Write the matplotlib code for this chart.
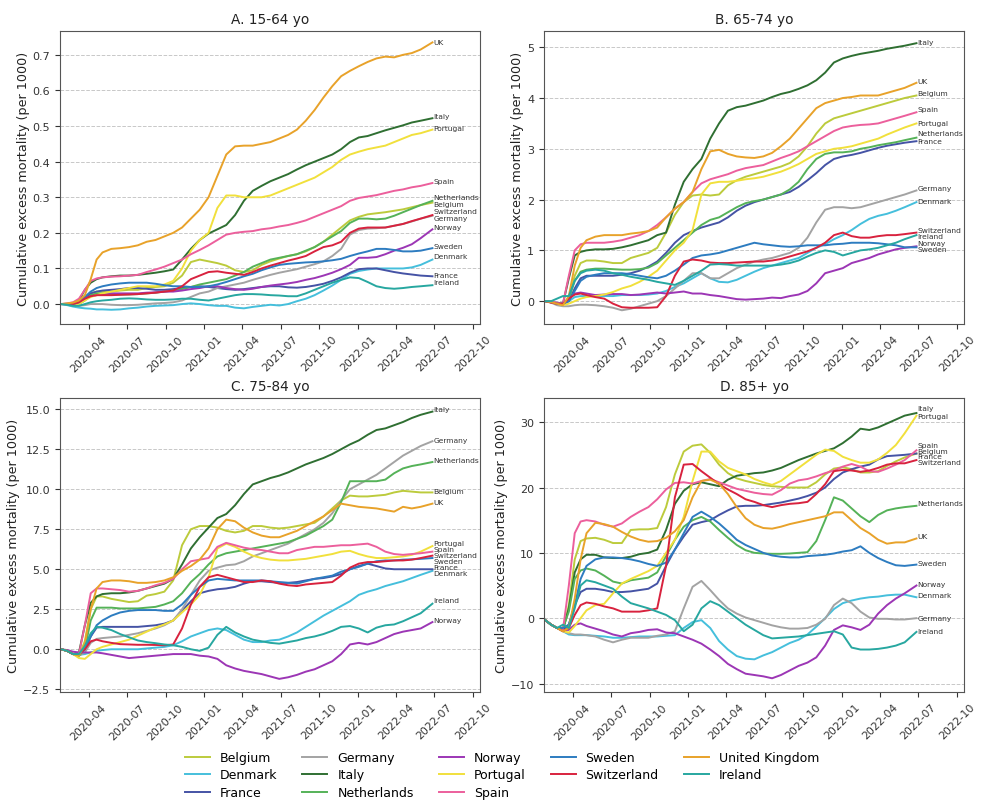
import matplotlib
matplotlib.use("Agg")
import matplotlib.pyplot as plt
import matplotlib.dates as mdates
from matplotlib.ticker import MultipleLocator
import pandas as pd

# ---------------- data ----------------
DATES = ["2020-01-27", "2020-02-10", "2020-02-24", "2020-03-09", "2020-03-23", "2020-04-06",
         "2020-04-20", "2020-05-04", "2020-05-25", "2020-06-15", "2020-07-06", "2020-07-27",
         "2020-08-17", "2020-09-07", "2020-09-28", "2020-10-19", "2020-11-09", "2020-11-30",
         "2020-12-21", "2021-01-11", "2021-02-01", "2021-02-22", "2021-03-15", "2021-04-05",
         "2021-04-26", "2021-05-17", "2021-06-07", "2021-06-28", "2021-07-19", "2021-08-09",
         "2021-08-30", "2021-09-20", "2021-10-11", "2021-11-01", "2021-11-22", "2021-12-13",
         "2022-01-03", "2022-01-24", "2022-02-14", "2022-03-07", "2022-03-28", "2022-04-18",
         "2022-05-09", "2022-05-30", "2022-06-27"]

COUNTRIES = ["Belgium", "Denmark", "France", "Germany", "Italy", "Netherlands", "Norway",
             "Portugal", "Spain", "Sweden", "Switzerland", "United Kingdom", "Ireland"]
SHORT = {"United Kingdom": "UK"}

# Panel A: 15-64 yo
A_BELGIUM = [0, 0, 0, 0.005, 0.015, 0.03, 0.035, 0.035, 0.035, 0.038, 0.04, 0.04, 0.045, 0.048, 0.05, 0.06, 0.08, 0.118, 0.125, 0.12, 0.115, 0.108, 0.095, 0.09, 0.095, 0.11, 0.12, 0.128, 0.135, 0.14, 0.148, 0.16, 0.175, 0.195, 0.215, 0.235, 0.245, 0.252, 0.255, 0.258, 0.262, 0.266, 0.272, 0.278, 0.285]
A_DENMARK = [0, -0.003, -0.007, -0.01, -0.012, -0.013, -0.015, -0.015, -0.016, -0.015, -0.012, -0.01, -0.007, -0.005, -0.004, -0.003, 0.0, 0.002, 0.0, -0.003, -0.005, -0.005, -0.01, -0.012, -0.008, -0.005, -0.002, -0.004, 0.0, 0.008, 0.015, 0.025, 0.038, 0.052, 0.068, 0.085, 0.093, 0.097, 0.1, 0.1, 0.1, 0.1, 0.103, 0.11, 0.125]
A_FRANCE = [0, 0, 0, 0.003, 0.015, 0.03, 0.035, 0.038, 0.04, 0.042, 0.045, 0.045, 0.043, 0.04, 0.04, 0.042, 0.045, 0.048, 0.05, 0.048, 0.045, 0.042, 0.04, 0.042, 0.045, 0.048, 0.05, 0.05, 0.047, 0.046, 0.048, 0.052, 0.057, 0.065, 0.075, 0.088, 0.098, 0.1, 0.1, 0.095, 0.09, 0.086, 0.083, 0.08, 0.078]
A_GERMANY = [0, 0, -0.003, -0.005, -0.003, 0.0, 0.0, 0.0, -0.002, -0.003, -0.003, -0.002, 0.0, 0.002, 0.003, 0.005, 0.01, 0.02, 0.03, 0.035, 0.045, 0.05, 0.055, 0.06, 0.068, 0.075, 0.082, 0.088, 0.093, 0.098, 0.105, 0.112, 0.12, 0.135, 0.155, 0.195, 0.208, 0.212, 0.213, 0.215, 0.22, 0.225, 0.232, 0.24, 0.248]
A_ITALY = [0, 0, 0.002, 0.01, 0.04, 0.06, 0.07, 0.075, 0.078, 0.08, 0.08, 0.082, 0.085, 0.088, 0.092, 0.097, 0.125, 0.155, 0.18, 0.198, 0.21, 0.222, 0.25, 0.29, 0.318, 0.332, 0.345, 0.355, 0.365, 0.378, 0.39, 0.4, 0.41, 0.42, 0.435, 0.455, 0.468, 0.472, 0.48, 0.488, 0.495, 0.502, 0.51, 0.515, 0.522]
A_NETHERLANDS = [0, 0, -0.003, 0.0, 0.01, 0.025, 0.03, 0.03, 0.028, 0.027, 0.027, 0.028, 0.03, 0.032, 0.035, 0.038, 0.042, 0.048, 0.055, 0.06, 0.065, 0.07, 0.08, 0.09, 0.105, 0.115, 0.125, 0.13, 0.135, 0.14, 0.15, 0.16, 0.175, 0.19, 0.205, 0.228, 0.24, 0.24, 0.238, 0.24, 0.248, 0.258, 0.268, 0.278, 0.29]
A_NORWAY = [0, 0, 0, 0.005, 0.015, 0.022, 0.025, 0.027, 0.03, 0.03, 0.03, 0.03, 0.032, 0.033, 0.035, 0.035, 0.038, 0.042, 0.045, 0.05, 0.05, 0.045, 0.042, 0.04, 0.043, 0.048, 0.052, 0.055, 0.058, 0.062, 0.068, 0.073, 0.08, 0.088, 0.098, 0.11, 0.13, 0.13, 0.132, 0.14, 0.15, 0.158, 0.168, 0.185, 0.21]
A_PORTUGAL = [0, 0, -0.002, 0, 0.01, 0.02, 0.025, 0.03, 0.035, 0.04, 0.045, 0.05, 0.05, 0.05, 0.055, 0.065, 0.1, 0.15, 0.18, 0.2, 0.27, 0.305, 0.305, 0.3, 0.3, 0.3, 0.305, 0.315, 0.325, 0.335, 0.345, 0.355, 0.37, 0.385, 0.405, 0.42, 0.428, 0.435, 0.44, 0.445, 0.455, 0.465, 0.475, 0.48, 0.49]
A_SPAIN = [0, 0.002, 0.005, 0.015, 0.04, 0.065, 0.072, 0.075, 0.077, 0.078, 0.08, 0.082, 0.09, 0.097, 0.105, 0.115, 0.125, 0.14, 0.152, 0.165, 0.18, 0.195, 0.2, 0.203, 0.205, 0.21, 0.213, 0.218, 0.222, 0.228, 0.235, 0.245, 0.255, 0.265, 0.275, 0.29, 0.298, 0.302, 0.306, 0.312, 0.318, 0.322, 0.328, 0.332, 0.34]
A_SWEDEN = [0, 0, 0, 0.005, 0.02, 0.035, 0.045, 0.05, 0.055, 0.058, 0.06, 0.06, 0.06, 0.057, 0.053, 0.05, 0.05, 0.048, 0.048, 0.05, 0.055, 0.062, 0.07, 0.078, 0.085, 0.095, 0.103, 0.11, 0.113, 0.115, 0.117, 0.118, 0.12, 0.123, 0.127, 0.135, 0.142, 0.148, 0.155, 0.155, 0.152, 0.148, 0.148, 0.15, 0.157]
A_SWITZERLAND = [0, 0, 0, 0.005, 0.015, 0.022, 0.025, 0.025, 0.025, 0.026, 0.027, 0.028, 0.03, 0.032, 0.035, 0.038, 0.05, 0.07, 0.08, 0.09, 0.092, 0.088, 0.085, 0.082, 0.09, 0.1, 0.108, 0.115, 0.122, 0.128, 0.135, 0.148, 0.16, 0.165, 0.175, 0.2, 0.212, 0.215, 0.215, 0.215, 0.22, 0.225, 0.233, 0.24, 0.25]
A_UK = [0, 0.002, 0.004, 0.01, 0.025, 0.07, 0.125, 0.145, 0.155, 0.157, 0.16, 0.165, 0.175, 0.18, 0.19, 0.2, 0.215, 0.24, 0.265, 0.3, 0.36, 0.42, 0.443, 0.445, 0.445, 0.45, 0.455, 0.465, 0.475, 0.49, 0.515, 0.545, 0.58, 0.612, 0.64, 0.655, 0.668, 0.68, 0.69, 0.695, 0.693, 0.7, 0.705, 0.715, 0.735]
A_IRELAND = [0, -0.002, -0.005, -0.005, 0.0, 0.005, 0.008, 0.01, 0.012, 0.015, 0.016, 0.015, 0.013, 0.012, 0.012, 0.013, 0.015, 0.015, 0.012, 0.01, 0.015, 0.02, 0.025, 0.028, 0.028, 0.027, 0.025, 0.024, 0.022, 0.022, 0.03, 0.04, 0.05, 0.06, 0.068, 0.075, 0.073, 0.062, 0.05, 0.045, 0.043, 0.045, 0.048, 0.05, 0.053]

# Panel B: 65-74 yo
B_BELGIUM = [0, -0.02, -0.05, -0.06, 0.05, 0.5, 0.75, 0.8, 0.8, 0.78, 0.75, 0.75, 0.85, 0.9, 0.95, 1.05, 1.35, 1.7, 1.95, 2.08, 2.1, 2.08, 2.1, 2.28, 2.38, 2.45, 2.5, 2.55, 2.6, 2.65, 2.72, 2.85, 3.05, 3.3, 3.5, 3.6, 3.65, 3.7, 3.75, 3.8, 3.85, 3.9, 3.95, 4.0, 4.05]
B_DENMARK = [0, 0, -0.03, -0.05, 0.0, 0.08, 0.1, 0.1, 0.1, 0.1, 0.1, 0.12, 0.12, 0.12, 0.13, 0.15, 0.2, 0.28, 0.35, 0.45, 0.55, 0.45, 0.38, 0.37, 0.42, 0.5, 0.58, 0.65, 0.7, 0.75, 0.8, 0.85, 0.95, 1.05, 1.12, 1.22, 1.3, 1.4, 1.52, 1.62, 1.68, 1.72, 1.78, 1.85, 1.95]
B_FRANCE = [0, -0.02, -0.05, -0.05, 0.0, 0.25, 0.45, 0.5, 0.5, 0.5, 0.5, 0.52, 0.55, 0.6, 0.68, 0.78, 0.95, 1.15, 1.3, 1.38, 1.45, 1.5, 1.55, 1.65, 1.78, 1.88, 1.95, 2.0, 2.05, 2.1, 2.15, 2.25, 2.38, 2.52, 2.68, 2.8, 2.85, 2.88, 2.92, 2.97, 3.02, 3.06, 3.09, 3.12, 3.15]
B_GERMANY = [0, -0.03, -0.08, -0.1, -0.1, -0.08, -0.07, -0.07, -0.08, -0.1, -0.13, -0.18, -0.15, -0.1, -0.05, 0.0, 0.1, 0.25, 0.4, 0.55, 0.55, 0.45, 0.45, 0.55, 0.65, 0.72, 0.78, 0.82, 0.85, 0.9, 0.95, 1.05, 1.25, 1.55, 1.8, 1.85, 1.85, 1.83, 1.85, 1.9, 1.95, 2.0, 2.05, 2.1, 2.18]
B_ITALY = [0, -0.02, -0.05, -0.05, 0.45, 0.9, 0.97, 1.0, 1.02, 1.02, 1.03, 1.06, 1.1, 1.15, 1.2, 1.3, 1.35, 1.9, 2.35, 2.6, 2.8, 3.2, 3.5, 3.75, 3.82, 3.85, 3.9, 3.95, 4.02, 4.08, 4.12, 4.18, 4.25, 4.35, 4.5, 4.7, 4.78, 4.83, 4.87, 4.9, 4.93, 4.97, 5.0, 5.03, 5.08]
B_NETHERLANDS = [0, -0.02, -0.05, -0.05, 0.05, 0.4, 0.58, 0.62, 0.64, 0.64, 0.63, 0.62, 0.62, 0.63, 0.66, 0.75, 0.9, 1.05, 1.2, 1.35, 1.5, 1.6, 1.65, 1.75, 1.85, 1.93, 1.97, 2.0, 2.05, 2.1, 2.2, 2.35, 2.6, 2.8, 2.9, 2.93, 2.93, 2.95, 3.0, 3.03, 3.07, 3.1, 3.13, 3.17, 3.22]
B_NORWAY = [0, -0.02, -0.05, -0.05, 0.05, 0.15, 0.17, 0.15, 0.12, 0.13, 0.14, 0.14, 0.12, 0.13, 0.15, 0.17, 0.15, 0.17, 0.19, 0.15, 0.15, 0.12, 0.1, 0.07, 0.04, 0.03, 0.04, 0.05, 0.07, 0.06, 0.1, 0.13, 0.2, 0.35, 0.55, 0.6, 0.65, 0.75, 0.8, 0.85, 0.92, 0.97, 1.02, 1.05, 1.08]
B_PORTUGAL = [0, -0.02, -0.05, -0.08, -0.05, 0.0, 0.05, 0.08, 0.1, 0.13, 0.18, 0.25, 0.3, 0.38, 0.48, 0.6, 0.8, 1.0, 1.15, 1.4, 2.1, 2.32, 2.35, 2.35, 2.37, 2.4, 2.42, 2.45, 2.5, 2.55, 2.62, 2.7, 2.8, 2.9, 2.95, 3.0, 3.02, 3.05, 3.1, 3.15, 3.2, 3.28, 3.35, 3.42, 3.5]
B_SPAIN = [0, 0, -0.03, -0.05, 0.5, 1.0, 1.12, 1.15, 1.15, 1.15, 1.17, 1.2, 1.25, 1.3, 1.38, 1.5, 1.65, 1.82, 1.95, 2.15, 2.32, 2.4, 2.45, 2.5, 2.57, 2.62, 2.65, 2.68, 2.75, 2.82, 2.88, 2.95, 3.05, 3.15, 3.25, 3.35, 3.42, 3.45, 3.47, 3.48, 3.5, 3.55, 3.6, 3.65, 3.72]
B_SWEDEN = [0, -0.02, -0.05, -0.05, 0.0, 0.2, 0.4, 0.48, 0.52, 0.55, 0.55, 0.55, 0.53, 0.5, 0.47, 0.45, 0.5, 0.6, 0.72, 0.85, 0.9, 0.92, 0.95, 1.0, 1.05, 1.1, 1.15, 1.12, 1.1, 1.08, 1.07, 1.08, 1.1, 1.1, 1.1, 1.12, 1.13, 1.15, 1.15, 1.15, 1.14, 1.12, 1.1, 1.06, 1.06]
B_SWITZERLAND = [0, -0.03, -0.05, -0.05, 0.05, 0.13, 0.15, 0.12, 0.08, 0.05, -0.05, -0.12, -0.13, -0.13, -0.13, -0.12, 0.1, 0.5, 0.78, 0.82, 0.8, 0.76, 0.75, 0.75, 0.76, 0.77, 0.78, 0.78, 0.8, 0.83, 0.88, 0.93, 0.98, 1.05, 1.15, 1.3, 1.35, 1.28, 1.25, 1.25, 1.28, 1.3, 1.3, 1.32, 1.35]
B_UK = [0, -0.02, -0.05, -0.08, 0.1, 0.7, 1.05, 1.2, 1.27, 1.3, 1.3, 1.3, 1.33, 1.35, 1.38, 1.45, 1.65, 1.82, 1.95, 2.15, 2.6, 2.95, 2.98, 2.9, 2.85, 2.83, 2.82, 2.85, 2.92, 3.05, 3.2, 3.4, 3.6, 3.8, 3.9, 3.95, 4.0, 4.02, 4.05, 4.05, 4.05, 4.1, 4.15, 4.2, 4.3]
B_IRELAND = [0, 0, 0.05, 0.1, 0.1, 0.4, 0.55, 0.6, 0.62, 0.6, 0.55, 0.52, 0.48, 0.45, 0.42, 0.38, 0.35, 0.32, 0.4, 0.5, 0.6, 0.72, 0.73, 0.72, 0.7, 0.7, 0.7, 0.7, 0.7, 0.72, 0.75, 0.8, 0.88, 0.95, 1.0, 0.97, 0.9, 0.95, 1.0, 1.02, 1.05, 1.1, 1.15, 1.22, 1.3]

# Panel C: 75-84 yo
C_BELGIUM = [0, -0.1, -0.3, -0.4, 0.5, 2.5, 3.3, 3.3, 3.15, 3.05, 2.95, 3.0, 3.35, 3.45, 3.6, 4.3, 6.5, 7.5, 7.7, 7.7, 7.6, 7.4, 7.3, 7.4, 7.7, 7.7, 7.6, 7.55, 7.6, 7.7, 7.8, 7.9, 8.3, 8.8, 9.3, 9.6, 9.55, 9.55, 9.6, 9.65, 9.8, 9.9, 9.85, 9.8, 9.8]
C_DENMARK = [0, -0.1, -0.3, -0.35, -0.3, -0.2, -0.1, -0.05, 0.0, 0.0, 0.0, 0.0, 0.05, 0.1, 0.15, 0.25, 0.5, 0.8, 1.0, 1.2, 1.3, 1.2, 0.9, 0.6, 0.45, 0.45, 0.55, 0.6, 0.8, 1.05, 1.4, 1.75, 2.1, 2.4, 2.7, 3.0, 3.4, 3.6, 3.75, 3.95, 4.1, 4.25, 4.45, 4.65, 4.9]
C_FRANCE = [0, -0.1, -0.3, -0.3, 0.0, 0.8, 1.35, 1.4, 1.4, 1.4, 1.4, 1.4, 1.45, 1.5, 1.6, 1.8, 2.4, 3.0, 3.5, 3.65, 3.75, 3.8, 3.9, 4.1, 4.25, 4.25, 4.2, 4.15, 4.15, 4.2, 4.3, 4.4, 4.45, 4.55, 4.7, 5.0, 5.2, 5.35, 5.2, 5.05, 5.0, 5.0, 5.0, 5.0, 5.0]
C_GERMANY = [0, -0.1, -0.3, -0.4, -0.2, 0.4, 0.65, 0.7, 0.75, 0.8, 0.9, 1.0, 1.15, 1.3, 1.5, 1.8, 2.5, 3.4, 4.3, 4.9, 5.1, 5.25, 5.3, 5.5, 5.8, 6.0, 6.2, 6.4, 6.6, 6.9, 7.2, 7.5, 7.9, 8.5, 9.3, 10.0, 10.3, 10.6, 10.9, 11.3, 11.7, 12.1, 12.4, 12.7, 13.0]
C_ITALY = [0, -0.1, -0.3, -0.2, 1.5, 2.9, 3.3, 3.45, 3.5, 3.5, 3.55, 3.65, 3.8, 3.95, 4.1, 4.4, 5.3, 6.3, 7.0, 7.6, 8.2, 8.45, 9.0, 9.7, 10.3, 10.5, 10.7, 10.85, 11.05, 11.3, 11.55, 11.75, 11.95, 12.2, 12.5, 12.8, 13.05, 13.4, 13.7, 13.8, 14.0, 14.2, 14.45, 14.65, 14.85]
C_NETHERLANDS = [0, -0.1, -0.3, -0.4, 0.0, 1.8, 2.6, 2.6, 2.6, 2.55, 2.55, 2.55, 2.6, 2.65, 2.8, 3.0, 3.5, 4.2, 4.7, 5.3, 5.8, 6.0, 6.1, 6.2, 6.3, 6.4, 6.5, 6.6, 6.7, 6.9, 7.1, 7.4, 7.7, 8.1, 9.2, 10.5, 10.5, 10.5, 10.5, 10.6, 11.0, 11.3, 11.45, 11.55, 11.7]
C_NORWAY = [0, -0.05, -0.15, -0.2, -0.2, -0.2, -0.2, -0.25, -0.35, -0.45, -0.55, -0.5, -0.45, -0.4, -0.35, -0.3, -0.3, -0.3, -0.4, -0.45, -0.6, -1.0, -1.2, -1.35, -1.45, -1.55, -1.7, -1.85, -1.75, -1.6, -1.4, -1.25, -1.0, -0.75, -0.3, 0.3, 0.4, 0.3, 0.45, 0.7, 0.95, 1.1, 1.2, 1.3, 1.7]
C_PORTUGAL = [0, -0.1, -0.3, -0.55, -0.6, -0.3, 0.0, 0.15, 0.3, 0.45, 0.6, 0.85, 1.1, 1.35, 1.55, 1.8, 2.3, 2.8, 3.4, 4.5, 6.3, 6.6, 6.4, 6.1, 5.85, 5.7, 5.6, 5.55, 5.55, 5.6, 5.65, 5.75, 5.85, 5.95, 6.1, 6.15, 5.95, 5.8, 5.7, 5.7, 5.75, 5.8, 5.9, 6.1, 6.45]
C_SPAIN = [0, -0.1, -0.3, -0.3, 1.5, 3.5, 3.8, 3.8, 3.75, 3.7, 3.6, 3.65, 3.8, 4.0, 4.15, 4.4, 5.0, 5.5, 5.6, 5.7, 6.4, 6.65, 6.5, 6.35, 6.25, 6.2, 6.1, 6.0, 6.0, 6.2, 6.3, 6.4, 6.4, 6.45, 6.5, 6.5, 6.55, 6.6, 6.4, 6.1, 5.95, 5.9, 5.95, 6.0, 6.1]
C_SWEDEN = [0, -0.1, -0.3, -0.3, 0.0, 0.8, 1.5, 1.8, 2.1, 2.3, 2.4, 2.45, 2.45, 2.45, 2.4, 2.4, 2.8, 3.4, 3.9, 4.3, 4.4, 4.35, 4.3, 4.3, 4.3, 4.3, 4.25, 4.2, 4.15, 4.1, 4.25, 4.4, 4.5, 4.6, 4.85, 5.0, 5.15, 5.35, 5.5, 5.55, 5.55, 5.6, 5.62, 5.65, 5.7]
C_SWITZERLAND = [0, -0.1, -0.3, -0.3, 0.0, 0.5, 0.6, 0.5, 0.4, 0.32, 0.3, 0.28, 0.28, 0.27, 0.25, 0.3, 1.3, 2.8, 3.9, 4.5, 4.65, 4.5, 4.35, 4.2, 4.2, 4.3, 4.25, 4.1, 4.0, 3.95, 4.05, 4.1, 4.15, 4.2, 4.6, 5.1, 5.35, 5.45, 5.45, 5.5, 5.55, 5.55, 5.6, 5.7, 5.85]
C_UK = [0, -0.1, -0.3, -0.4, 0.3, 2.5, 3.8, 4.2, 4.3, 4.3, 4.25, 4.15, 4.15, 4.2, 4.3, 4.5, 4.9, 5.2, 5.6, 6.3, 7.5, 8.1, 8.0, 7.6, 7.3, 7.1, 7.0, 7.0, 7.2, 7.4, 7.7, 8.0, 8.3, 8.7, 9.1, 9.0, 8.9, 8.85, 8.8, 8.7, 8.6, 8.9, 8.8, 8.9, 9.1]
C_IRELAND = [0, -0.1, -0.3, -0.3, 0.2, 1.0, 1.4, 1.35, 1.2, 0.95, 0.75, 0.55, 0.45, 0.38, 0.3, 0.25, 0.15, 0.0, -0.1, 0.1, 0.9, 1.4, 1.05, 0.8, 0.6, 0.5, 0.4, 0.35, 0.45, 0.55, 0.7, 0.8, 0.95, 1.15, 1.4, 1.45, 1.3, 1.05, 1.35, 1.5, 1.55, 1.75, 2.0, 2.25, 2.85]

# Panel D: 85+ yo
D_BELGIUM = [-0.3, -1.0, -1.5, -1.8, 2.0, 9.0, 11.8, 12.2, 12.3, 12.0, 11.5, 11.5, 13.5, 13.6, 13.6, 13.8, 17.0, 22.0, 25.5, 26.4, 26.6, 25.3, 23.5, 22.2, 21.4, 21.0, 20.7, 20.4, 20.2, 20.1, 20.0, 20.0, 20.0, 20.8, 22.0, 22.9, 23.1, 22.8, 22.3, 22.3, 22.5, 23.3, 24.0, 24.6, 25.2]
D_DENMARK = [-0.3, -1.0, -1.5, -2.0, -2.5, -2.6, -2.6, -2.6, -2.7, -2.8, -3.0, -3.0, -2.9, -2.8, -2.8, -2.8, -2.7, -2.6, -1.5, -0.6, -0.3, -1.5, -3.5, -4.8, -5.8, -6.2, -6.3, -5.7, -5.2, -4.5, -3.8, -3.3, -2.5, -1.3, 0.0, 1.4, 2.3, 2.7, 3.0, 3.2, 3.3, 3.5, 3.6, 3.6, 3.2]
D_FRANCE = [-0.3, -1.0, -1.5, -1.8, -1.0, 2.0, 4.0, 4.5, 4.5, 4.3, 4.0, 4.0, 4.1, 4.3, 4.5, 5.3, 8.0, 10.5, 12.5, 14.3, 14.7, 15.0, 15.8, 16.5, 17.1, 17.2, 17.2, 17.3, 17.5, 17.7, 18.0, 18.3, 18.7, 19.2, 20.0, 21.3, 22.3, 22.8, 23.2, 23.5, 24.3, 24.8, 24.9, 25.0, 25.2]
D_GERMANY = [-0.3, -1.0, -1.5, -2.0, -2.3, -2.5, -2.5, -2.6, -2.8, -3.3, -3.7, -3.3, -3.0, -3.0, -3.0, -2.7, -2.5, -2.0, 1.5, 4.8, 5.7, 4.3, 2.8, 1.5, 0.7, 0.1, -0.3, -0.7, -1.1, -1.4, -1.6, -1.6, -1.5, -1.0, -0.1, 2.0, 3.0, 2.3, 1.0, 0.1, -0.1, -0.1, -0.2, -0.2, 0.0]
D_ITALY = [-0.3, -1.0, -1.5, -1.8, 1.5, 7.0, 9.0, 9.7, 9.7, 9.3, 9.2, 9.2, 9.4, 9.8, 10.0, 10.5, 13.5, 17.5, 19.5, 20.5, 20.8, 20.5, 20.2, 21.2, 21.8, 22.0, 22.2, 22.3, 22.6, 23.0, 23.6, 24.2, 24.7, 25.2, 25.6, 26.0, 26.8, 27.8, 29.0, 28.8, 29.2, 29.8, 30.4, 31.0, 31.4]
D_NETHERLANDS = [-0.3, -1.0, -1.5, -1.5, 1.0, 6.0, 7.3, 7.6, 7.3, 6.5, 5.6, 5.3, 5.8, 6.0, 6.2, 7.0, 9.5, 12.0, 14.0, 15.0, 15.5, 14.8, 13.5, 12.3, 11.2, 10.4, 10.0, 9.9, 9.85, 9.85, 9.9, 10.0, 10.1, 11.8, 15.0, 18.5, 18.0, 16.8, 15.6, 14.7, 15.8, 16.5, 16.8, 17.0, 17.2]
D_NORWAY = [-0.3, -1.0, -1.5, -1.8, -1.8, -1.0, -0.8, -1.2, -1.6, -2.0, -2.5, -2.8, -2.3, -2.1, -1.8, -1.7, -2.2, -2.3, -2.8, -3.3, -3.9, -4.8, -5.8, -7.0, -7.8, -8.5, -8.7, -8.9, -9.2, -8.7, -8.0, -7.3, -6.8, -6.0, -4.2, -1.8, -1.1, -1.4, -1.8, -1.0, 0.7, 2.0, 3.0, 3.8, 5.0]
D_PORTUGAL = [-0.3, -1.0, -1.5, -2.0, -2.2, -1.2, 0.0, 1.2, 2.0, 2.2, 3.8, 5.3, 6.0, 6.6, 7.2, 8.0, 10.0, 12.0, 15.5, 21.0, 25.5, 25.5, 24.0, 23.0, 22.5, 22.0, 21.3, 20.8, 20.4, 21.0, 22.0, 23.0, 24.0, 25.0, 25.8, 25.6, 24.7, 24.2, 23.8, 23.8, 24.3, 25.3, 26.5, 28.3, 31.0]
D_SPAIN = [-0.3, -1.0, -1.5, -1.8, 5.0, 13.0, 14.8, 15.0, 14.8, 14.3, 14.0, 14.5, 15.5, 16.3, 17.0, 18.2, 19.7, 20.7, 20.8, 20.6, 21.0, 21.3, 20.8, 20.3, 19.8, 19.5, 19.2, 19.0, 18.9, 19.6, 20.6, 21.1, 21.3, 21.7, 22.2, 22.6, 23.2, 23.6, 23.2, 22.5, 22.4, 22.9, 23.5, 24.2, 25.7]
D_SWEDEN = [-0.3, -1.0, -1.5, -1.5, -1.0, 2.0, 6.0, 8.0, 9.0, 9.3, 9.3, 9.2, 9.0, 8.7, 8.3, 8.0, 8.5, 10.5, 13.0, 15.5, 16.3, 15.5, 14.5, 13.3, 12.0, 11.2, 10.6, 10.0, 9.6, 9.4, 9.3, 9.3, 9.5, 9.6, 9.7, 9.9, 10.2, 10.4, 11.0, 10.0, 9.2, 8.6, 8.1, 8.0, 8.2]
D_SWITZERLAND = [-0.3, -1.0, -1.5, -2.0, -1.5, 0.5, 2.0, 2.4, 2.2, 1.8, 1.5, 1.0, 1.0, 1.0, 1.2, 1.5, 8.0, 18.5, 23.5, 23.6, 22.5, 21.5, 20.5, 19.7, 19.0, 18.2, 17.8, 17.3, 17.0, 17.3, 17.5, 17.6, 17.8, 19.0, 20.5, 22.5, 22.7, 22.6, 22.4, 22.6, 23.0, 23.5, 23.7, 23.7, 24.2]
D_UK = [-0.3, -1.0, -1.5, -2.0, -1.5, 3.0, 9.0, 13.0, 14.6, 14.4, 14.0, 13.2, 12.5, 12.0, 11.7, 11.8, 12.3, 13.3, 15.0, 18.5, 21.0, 21.2, 20.6, 19.0, 17.0, 15.3, 14.3, 13.8, 13.7, 14.0, 14.4, 14.7, 15.0, 15.3, 15.6, 16.2, 16.2, 15.0, 13.8, 13.0, 12.0, 11.4, 11.6, 11.6, 12.2]
D_IRELAND = [-0.3, -1.0, -1.5, -1.0, -1.5, 1.5, 5.0, 5.8, 5.5, 5.0, 4.5, 3.3, 2.3, 1.9, 1.5, 1.0, 0.5, -0.3, -2.0, -1.0, 1.5, 2.6, 2.0, 1.0, 0.0, -1.0, -1.8, -2.6, -3.1, -3.0, -2.9, -2.8, -2.6, -2.4, -2.2, -2.0, -2.5, -4.5, -4.8, -4.8, -4.7, -4.5, -4.2, -3.7, -2.1]

TITLES = ["A. 15-64 yo", "B. 65-74 yo", "C. 75-84 yo", "D. 85+ yo"]
YLABEL = "Cumulative excess mortality (per 1000)"

# end-of-line label heights (text placement)
LABEL_Y_A = {"United Kingdom": 0.735, "Italy": 0.527, "Portugal": 0.495, "Spain": 0.345,
             "Netherlands": 0.302, "Belgium": 0.281, "Switzerland": 0.262, "Germany": 0.243,
             "Norway": 0.217, "Sweden": 0.163, "Denmark": 0.135, "France": 0.082, "Ireland": 0.061}
LABEL_Y_B = {"Italy": 5.11, "United Kingdom": 4.33, "Belgium": 4.09, "Spain": 3.79,
             "Portugal": 3.51, "Netherlands": 3.31, "France": 3.16, "Germany": 2.22,
             "Denmark": 1.98, "Switzerland": 1.41, "Ireland": 1.29, "Norway": 1.15, "Sweden": 1.02}
LABEL_Y_C = {"Italy": 15.0, "Germany": 13.05, "Netherlands": 11.8, "Belgium": 9.9,
             "United Kingdom": 9.2, "Portugal": 6.65, "Spain": 6.27, "Switzerland": 5.92,
             "Sweden": 5.5, "France": 5.13, "Denmark": 4.75, "Ireland": 3.08, "Norway": 1.85}
LABEL_Y_D = {"Italy": 32.1, "Portugal": 30.9, "Spain": 26.5, "Belgium": 25.6, "France": 24.8,
             "Switzerland": 23.9, "Netherlands": 17.65, "United Kingdom": 12.65, "Sweden": 8.47,
             "Norway": 5.26, "Denmark": 3.62, "Germany": 0.05, "Ireland": -1.89}

# ---------------- assemble ----------------
def panel(prefix):
    g = globals()
    keys = {"United Kingdom": "UK"}
    return {c: g[prefix + "_" + keys.get(c, c).upper()] for c in COUNTRIES}

PANELS = [panel("A"), panel("B"), panel("C"), panel("D")]
LABELS_Y = [LABEL_Y_A, LABEL_Y_B, LABEL_Y_C, LABEL_Y_D]

COLORS = {"Belgium": "#bccb3c", "Denmark": "#45bfdc", "France": "#4553a5", "Germany": "#a3a3a3",
          "Italy": "#2f6f32", "Netherlands": "#55b258", "Norway": "#9c36b5", "Portugal": "#f1e03c",
          "Spain": "#ec5f9c", "Sweden": "#2d7cc0", "Switzerland": "#d8223e",
          "United Kingdom": "#e8a22a", "Ireland": "#27a7a0"}

YLIMS = [(-0.056, 0.767), (-0.45, 5.32), (-2.67, 15.7), (-11.3, 33.7)]
YSTEP = [0.1, 1, 2.5, 10]
POS = [(60, 32, 480, 325), (544, 32, 964, 325), (60, 399, 480, 693), (544, 399, 964, 693)]

W, H = 997, 812
fig = plt.figure(figsize=(W / 100, H / 100), dpi=100)
x = pd.to_datetime(DATES)
xlim = (pd.Timestamp("2020-01-24"), pd.Timestamp("2022-10-18"))

handles = []
for i, (data, ly) in enumerate(zip(PANELS, LABELS_Y)):
    l, t, r, b = POS[i]
    ax = fig.add_axes([l / W, 1 - b / H, (r - l) / W, (b - t) / H])
    for c in COUNTRIES:
        h, = ax.plot(x, data[c], color=COLORS[c], lw=1.4, label=c)
        if i == 0:
            handles.append(h)
        ax.text(x[-1] + pd.Timedelta(days=3), ly[c], SHORT.get(c, c), fontsize=5.4,
                ha="left", va="center", color="#333333")
    ax.set_xlim(xlim)
    ax.set_ylim(YLIMS[i])
    ax.yaxis.set_major_locator(MultipleLocator(YSTEP[i]))
    ax.xaxis.set_major_locator(mdates.MonthLocator(bymonth=[1, 4, 7, 10]))
    ax.xaxis.set_major_formatter(mdates.DateFormatter("%Y-%m"))
    ax.tick_params(axis="x", rotation=45, labelsize=7.8, colors="#333333")
    ax.tick_params(axis="y", labelsize=8, colors="#333333")
    ax.yaxis.grid(True, linestyle="--", color="#c8c8c8", linewidth=0.7)
    ax.set_axisbelow(True)
    for s in ax.spines.values():
        s.set_color("#555555")
    ax.set_title(TITLES[i], fontsize=9.8, color="#222222", pad=6)
    ax.set_ylabel(YLABEL, fontsize=9.2, color="#222222", labelpad=2)

fig.legend(handles, COUNTRIES, loc="center", bbox_to_anchor=(502 / W, 1 - 776 / H), ncol=5,
           frameon=False, fontsize=9, handlelength=2.0, columnspacing=2.0, labelspacing=0.35)

fig.savefig("out.png", dpi=100, facecolor="white")
